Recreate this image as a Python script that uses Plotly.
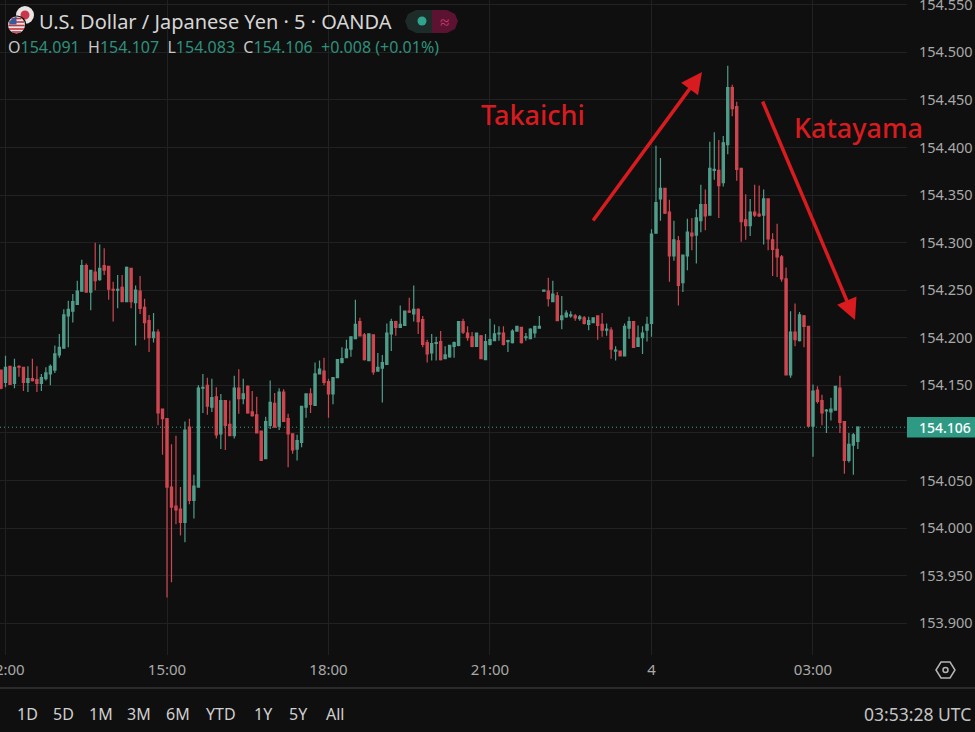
import pandas as pd
import plotly.graph_objects as go

# USD/JPY 5 minute bars, first bar 11:55, last bar 03:50
first_bar = "2025-11-03 11:55"

open_prices = [
    154.166, 154.153, 154.170, 154.152, 154.170, 154.169, 154.153, 154.157, 154.156, 154.152, 154.157, 154.162,
    154.166, 154.182, 154.189, 154.223, 154.228, 154.235, 154.249, 154.276, 154.248, 154.269, 154.261, 154.276,
    154.275, 154.251, 154.250, 154.253, 154.238, 154.273, 154.237, 154.249, 154.232, 154.218, 154.200, 154.206,
    154.125, 154.115, 154.043, 154.023, 154.020, 154.006, 154.106, 154.029, 154.043, 154.147, 154.150, 154.127,
    154.138, 154.099, 154.134, 154.109, 154.097, 154.147, 154.136, 154.149, 154.122, 154.119, 154.102, 154.073,
    154.108, 154.131, 154.107, 154.143, 154.115, 154.099, 154.083, 154.090, 154.127, 154.141, 154.129, 154.162,
    154.165, 154.154, 154.141, 154.158, 154.174, 154.179, 154.188, 154.199, 154.217, 154.203, 154.176, 154.203,
    154.165, 154.168, 154.172, 154.204, 154.217, 154.211, 154.213, 154.228, 154.225, 154.230, 154.219, 154.195,
    154.184, 154.194, 154.196, 154.178, 154.180, 154.191, 154.192, 154.217, 154.205, 154.201, 154.191, 154.202,
    154.177, 154.193, 154.197, 154.204, 154.205, 154.196, 154.195, 154.207, 154.211, 154.200, 154.199, 154.205,
    154.210, 154.249, 154.249, 154.238, 154.244, 154.219, 154.222, 154.223, 154.223, 154.220, 154.221, 154.214,
    154.216, 154.223, 154.214, 154.208, 154.208, 154.186, 154.186, 154.181, 154.210, 154.217, 154.191, 154.200,
    154.208, 154.215, 154.310, 154.346, 154.357, 154.332, 154.286, 154.302, 154.258, 154.286, 154.310, 154.308,
    154.323, 154.340, 154.329, 154.376, 154.376, 154.363, 154.403, 154.463, 154.443, 154.378, 154.324, 154.318,
    154.332, 154.330, 154.329, 154.346, 154.303, 154.293, 154.285, 154.262, 154.161, 154.206, 154.197, 154.223,
    154.212, 154.107, 154.145, 154.134, 154.123, 154.122, 154.124, 154.147, 154.112, 154.071, 154.087, 154.091,
]
high_prices = [
    154.166, 154.181, 154.170, 154.178, 154.171, 154.169, 154.170, 154.178, 154.170, 154.162, 154.169, 154.172,
    154.192, 154.204, 154.230, 154.239, 154.246, 154.260, 154.282, 154.278, 154.271, 154.300, 154.298, 154.294,
    154.275, 154.259, 154.266, 154.266, 154.275, 154.273, 154.255, 154.265, 154.241, 154.224, 154.226, 154.209,
    154.125, 154.115, 154.088, 154.097, 154.043, 154.112, 154.115, 154.056, 154.150, 154.162, 154.158, 154.157,
    154.148, 154.141, 154.134, 154.134, 154.160, 154.167, 154.157, 154.150, 154.144, 154.138, 154.102, 154.117,
    154.155, 154.142, 154.147, 154.146, 154.120, 154.099, 154.098, 154.128, 154.141, 154.147, 154.174, 154.176,
    154.179, 154.157, 154.158, 154.177, 154.190, 154.198, 154.201, 154.240, 154.221, 154.205, 154.204, 154.203,
    154.184, 154.182, 154.215, 154.220, 154.218, 154.234, 154.228, 154.242, 154.255, 154.231, 154.223, 154.198,
    154.204, 154.201, 154.207, 154.191, 154.192, 154.196, 154.217, 154.220, 154.212, 154.206, 154.205, 154.203,
    154.204, 154.220, 154.214, 154.212, 154.212, 154.198, 154.209, 154.212, 154.211, 154.205, 154.210, 154.212,
    154.223, 154.250, 154.263, 154.260, 154.248, 154.244, 154.229, 154.228, 154.225, 154.224, 154.223, 154.222,
    154.221, 154.223, 154.226, 154.215, 154.211, 154.191, 154.186, 154.215, 154.222, 154.217, 154.213, 154.212,
    154.222, 154.314, 154.402, 154.389, 154.357, 154.345, 154.323, 154.307, 154.287, 154.325, 154.326, 154.335,
    154.361, 154.356, 154.406, 154.416, 154.408, 154.412, 154.486, 154.466, 154.448, 154.378, 154.351, 154.346,
    154.361, 154.360, 154.356, 154.346, 154.310, 154.320, 154.287, 154.274, 154.228, 154.236, 154.227, 154.224,
    154.212, 154.151, 154.149, 154.140, 154.125, 154.137, 154.149, 154.160, 154.112, 154.100, 154.100, 154.107,
]
low_prices = [
    154.146, 154.148, 154.151, 154.147, 154.159, 154.144, 154.143, 154.154, 154.143, 154.144, 154.155, 154.150,
    154.163, 154.179, 154.189, 154.190, 154.216, 154.235, 154.249, 154.248, 154.229, 154.250, 154.260, 154.266,
    154.240, 154.217, 154.231, 154.238, 154.238, 154.231, 154.192, 154.225, 154.198, 154.185, 154.195, 154.108,
    154.077, 153.927, 153.943, 154.004, 153.992, 153.985, 154.025, 154.010, 154.043, 154.121, 154.119, 154.122,
    154.094, 154.083, 154.082, 154.097, 154.094, 154.120, 154.130, 154.120, 154.117, 154.100, 154.071, 154.073,
    154.104, 154.106, 154.103, 154.112, 154.064, 154.078, 154.071, 154.085, 154.116, 154.121, 154.129, 154.162,
    154.150, 154.116, 154.130, 154.158, 154.173, 154.179, 154.180, 154.199, 154.202, 154.176, 154.176, 154.161,
    154.165, 154.132, 154.172, 154.186, 154.202, 154.211, 154.213, 154.226, 154.217, 154.204, 154.190, 154.174,
    154.176, 154.176, 154.176, 154.178, 154.179, 154.179, 154.191, 154.204, 154.197, 154.190, 154.191, 154.178,
    154.177, 154.192, 154.197, 154.197, 154.192, 154.185, 154.194, 154.207, 154.194, 154.197, 154.199, 154.200,
    154.210, 154.249, 154.233, 154.238, 154.218, 154.209, 154.221, 154.221, 154.218, 154.218, 154.214, 154.208,
    154.216, 154.198, 154.201, 154.202, 154.178, 154.176, 154.181, 154.181, 154.199, 154.190, 154.191, 154.183,
    154.196, 154.201, 154.310, 154.323, 154.330, 154.259, 154.281, 154.234, 154.248, 154.271, 154.292, 154.278,
    154.311, 154.313, 154.329, 154.366, 154.326, 154.359, 154.393, 154.433, 154.365, 154.301, 154.303, 154.307,
    154.327, 154.327, 154.298, 154.292, 154.265, 154.264, 154.259, 154.161, 154.158, 154.191, 154.196, 154.190,
    154.107, 154.075, 154.131, 154.108, 154.100, 154.113, 154.124, 154.100, 154.057, 154.069, 154.056, 154.083,
]
close_prices = [
    154.147, 154.169, 154.151, 154.169, 154.169, 154.153, 154.157, 154.155, 154.152, 154.158, 154.163, 154.170,
    154.183, 154.190, 154.224, 154.230, 154.238, 154.249, 154.276, 154.248, 154.271, 154.260, 154.273, 154.271,
    154.251, 154.250, 154.251, 154.238, 154.274, 154.238, 154.250, 154.231, 154.216, 154.200, 154.206, 154.121,
    154.115, 154.043, 154.022, 154.019, 154.006, 154.103, 154.029, 154.044, 154.147, 154.148, 154.128, 154.137,
    154.098, 154.134, 154.108, 154.097, 154.147, 154.136, 154.141, 154.121, 154.118, 154.100, 154.071, 154.112,
    154.132, 154.106, 154.143, 154.112, 154.099, 154.082, 154.092, 154.128, 154.141, 154.130, 154.162, 154.167,
    154.153, 154.141, 154.158, 154.177, 154.178, 154.188, 154.201, 154.214, 154.202, 154.177, 154.204, 154.164,
    154.169, 154.174, 154.205, 154.217, 154.211, 154.214, 154.228, 154.227, 154.230, 154.217, 154.193, 154.183,
    154.194, 154.195, 154.177, 154.182, 154.192, 154.195, 154.217, 154.206, 154.200, 154.191, 154.205, 154.178,
    154.196, 154.198, 154.204, 154.205, 154.193, 154.197, 154.207, 154.212, 154.195, 154.201, 154.209, 154.212,
    154.212, 154.250, 154.241, 154.246, 154.218, 154.223, 154.226, 154.224, 154.221, 154.222, 154.215, 154.218,
    154.221, 154.213, 154.208, 154.209, 154.188, 154.187, 154.181, 154.212, 154.217, 154.190, 154.200, 154.205,
    154.214, 154.309, 154.342, 154.357, 154.331, 154.286, 154.303, 154.255, 154.287, 154.311, 154.307, 154.326,
    154.340, 154.328, 154.378, 154.377, 154.360, 154.405, 154.463, 154.441, 154.377, 154.322, 154.318, 154.332,
    154.329, 154.328, 154.346, 154.304, 154.293, 154.285, 154.262, 154.161, 154.206, 154.198, 154.224, 154.212,
    154.107, 154.144, 154.133, 154.121, 154.124, 154.125, 154.149, 154.111, 154.071, 154.088, 154.098, 154.106,
]

price_ticks = [153.90, 153.95, 154.00, 154.05, 154.10, 154.15, 154.20, 154.25, 154.30, 154.35, 154.40, 154.45, 154.50, 154.55]
# the 154.100 label sits under the last price tag in the picture
price_labels = ["153.900", "153.950", "154.000", "154.050", "", "154.150", "154.200", "154.250", "154.300",
                "154.350", "154.400", "154.450", "154.500", "154.550"]
time_ticks = ["2025-11-03 12:00", "2025-11-03 15:00", "2025-11-03 18:00", "2025-11-03 21:00", "2025-11-04 00:00", "2025-11-04 03:00"]
time_labels = ["12:00", "15:00", "18:00", "21:00", "4", "03:00"]
range_buttons = ["1D", "5D", "1M", "3M", "6M", "YTD", "1Y", "5Y", "All"]
button_x = [27, 63, 101, 139, 178, 221, 263, 298, 335]

BG = "#0f0f0f"
GRID = "#212121"
UP = "#4f9d8a"
DOWN = "#cf4650"
LABEL = "#a9a9a9"
VALUE_GREEN = "#2f8f7c"
RED_TEXT = "#d81b1f"
PLOT_W = 907
PLOT_H = 655
FONT = "Noto Sans"

times = pd.date_range(first_bar, periods=len(close_prices), freq="5min")


# Screen position of the decorations, converted to paper coordinates
def px(v):
    return v / PLOT_W


def py(v):
    return 1 - v / PLOT_H


def circle(cx, cy, r, **kw):
    return dict(type="circle", xref="paper", yref="paper", x0=px(cx - r), x1=px(cx + r),
                y0=py(cy + r), y1=py(cy - r), **kw)


def paper_path(points):
    return "M " + " L ".join(f"{px(a):.5f},{py(b):.5f}" for a, b in points) + " Z"


def label(text, x, y, size, color, anchor="left", weight=None):
    return dict(text=text, xref="paper", yref="paper", x=px(x), y=py(y), showarrow=False,
                xanchor=anchor, yanchor="middle", font=dict(family=FONT, size=size, color=color, weight=weight))


fig = go.Figure()

fig.add_trace(go.Candlestick(
    x=times, open=open_prices, high=high_prices, low=low_prices, close=close_prices,
    increasing=dict(line=dict(color=UP, width=1.2), fillcolor=UP),
    decreasing=dict(line=dict(color=DOWN, width=1.2), fillcolor=DOWN),
    whiskerwidth=0,
))

last = close_prices[-1]
shapes = [
    # last price line and its tag
    dict(type="line", xref="paper", yref="y", x0=0, x1=1, y0=last, y1=last,
         line=dict(color="#3f9f8b", width=1, dash="1px,3px")),
    dict(type="rect", xref="paper", yref="y", x0=1, x1=px(975), y0=last - 0.0108, y1=last + 0.0108,
         fillcolor="#2f9a84", line=dict(width=0)),
    # separator above the range buttons
    dict(type="line", xref="paper", yref="paper", x0=0, x1=px(975), y0=py(688), y1=py(688),
         line=dict(color="#2b2b2b", width=2)),
    # settings icon
    dict(type="path", xref="paper", yref="paper", line=dict(color="#b5b5b5", width=1.5),
         path=paper_path([(941, 662), (950, 662), (955, 670), (950, 678), (941, 678), (936, 670)])),
    circle(945.5, 670, 2.5, line=dict(color="#b5b5b5", width=1.5)),
    # status pill in the header
    dict(type="path", xref="paper", yref="paper", fillcolor="#1d2b29", line=dict(width=0),
         path=paper_path([(416, 10), (432, 10), (432, 33), (416, 33), (408, 29), (405, 21), (408, 14)])),
    dict(type="path", xref="paper", yref="paper", fillcolor="#5c1231", line=dict(width=0),
         path=paper_path([(432, 10), (447, 10), (455, 14), (458, 21), (455, 29), (447, 33), (432, 33)])),
    circle(422, 21, 4.5, fillcolor="#2fa58d", line=dict(width=0)),
    # flags
    circle(25, 15, 9, fillcolor="#e9e4e4", line=dict(width=0)),
    circle(25, 15, 4.5, fillcolor="#c9384a", line=dict(width=0)),
    circle(17, 25, 9.5, fillcolor=BG, line=dict(width=0)),
    circle(16.5, 25, 8.5, fillcolor="#e6e6e6", line=dict(width=0)),
]
for stripe_y, half in [(18.5, 5), (22, 7.5), (25.5, 8.2), (29, 7.5), (32, 4.5)]:
    shapes.append(dict(type="line", xref="paper", yref="paper", x0=px(16.5 - half), x1=px(16.5 + half),
                       y0=py(stripe_y), y1=py(stripe_y), line=dict(color="#c4343f", width=1.6)))
shapes.append(dict(type="path", xref="paper", yref="paper", fillcolor="#3a5a9c", line=dict(width=0),
                   path=paper_path([(9, 24.5), (10.5, 20), (16.5, 16.5), (16.5, 24.5)])))

gap = "&nbsp;"
ohlc_text = (
    f"<span style='color:#c8c8c8'>O</span>{open_prices[-1]:.3f}{gap}"
    f"<span style='color:#c8c8c8'> H</span>{high_prices[-1]:.3f}{gap}"
    f"<span style='color:#c8c8c8'> L</span>{low_prices[-1]:.3f}{gap}"
    f"<span style='color:#c8c8c8'> C</span>{close_prices[-1]:.3f}{gap} +0.008 (+0.01%)"
)

annotations = [
    label("U.S. Dollar / Japanese Yen · 5 · OANDA", 37, 21, 20, "#d6d6d6"),
    label(ohlc_text, 6, 47, 16, VALUE_GREEN),
    label("≈", 444, 21, 17, "#c63a70", anchor="center"),
    label("Takaichi", 479, 114, 27, RED_TEXT, weight=500),
    label("Katayama", 792, 127, 27, RED_TEXT, weight=500),
    label("03:53:28 UTC", 973, 714, 17.5, "#c4c4c4", anchor="right"),
    dict(text=f"{last:.3f}", xref="paper", yref="y", x=px(917), y=last, showarrow=False, xanchor="left",
         yanchor="middle", font=dict(family=FONT, size=14, color="#ffffff", weight=500)),
    # the two arrows drawn over the chart
    dict(text="", xref="paper", yref="paper", x=px(702), y=py(72), ax=-110, ay=150, showarrow=True,
         arrowhead=2, arrowsize=1.2, arrowwidth=3.5, arrowcolor=RED_TEXT),
    dict(text="", xref="paper", yref="paper", x=px(855), y=py(320), ax=-93, ay=-220, showarrow=True,
         arrowhead=2, arrowsize=1.2, arrowwidth=3.5, arrowcolor=RED_TEXT),
]
for name, x in zip(range_buttons, button_x):
    annotations.append(label(name, x, 714, 16, "#d0d0d0", anchor="center"))

fig.update_layout(
    width=975,
    height=732,
    margin=dict(l=0, r=68, t=0, b=77, autoexpand=False),
    paper_bgcolor=BG,
    plot_bgcolor=BG,
    showlegend=False,
    shapes=shapes,
    annotations=annotations,
    font=dict(family=FONT, color=LABEL),
    xaxis=dict(
        range=["2025-11-03 11:53:52", "2025-11-04 04:44:47"],
        rangeslider=dict(visible=False),
        tickmode="array", tickvals=time_ticks, ticktext=time_labels,
        showgrid=True, gridcolor=GRID, gridwidth=1, zeroline=False, showline=False,
        ticks="outside", ticklen=1, tickcolor=BG, ticklabeloverflow="allow",
        tickfont=dict(family=FONT, size=15, color=LABEL),
    ),
    yaxis=dict(
        side="right",
        range=[153.8665, 154.5551],
        tickmode="array", tickvals=price_ticks, ticktext=price_labels,
        showgrid=True, gridcolor=GRID, gridwidth=1, zeroline=False, showline=False,
        ticks="outside", ticklen=8, tickcolor=BG, ticklabeloverflow="allow",
        tickfont=dict(family=FONT, size=14.5, color=LABEL),
    ),
)

fig.write_html("out.html", config=dict(displayModeBar=False), post_script="document.body.style.margin = '0';")
